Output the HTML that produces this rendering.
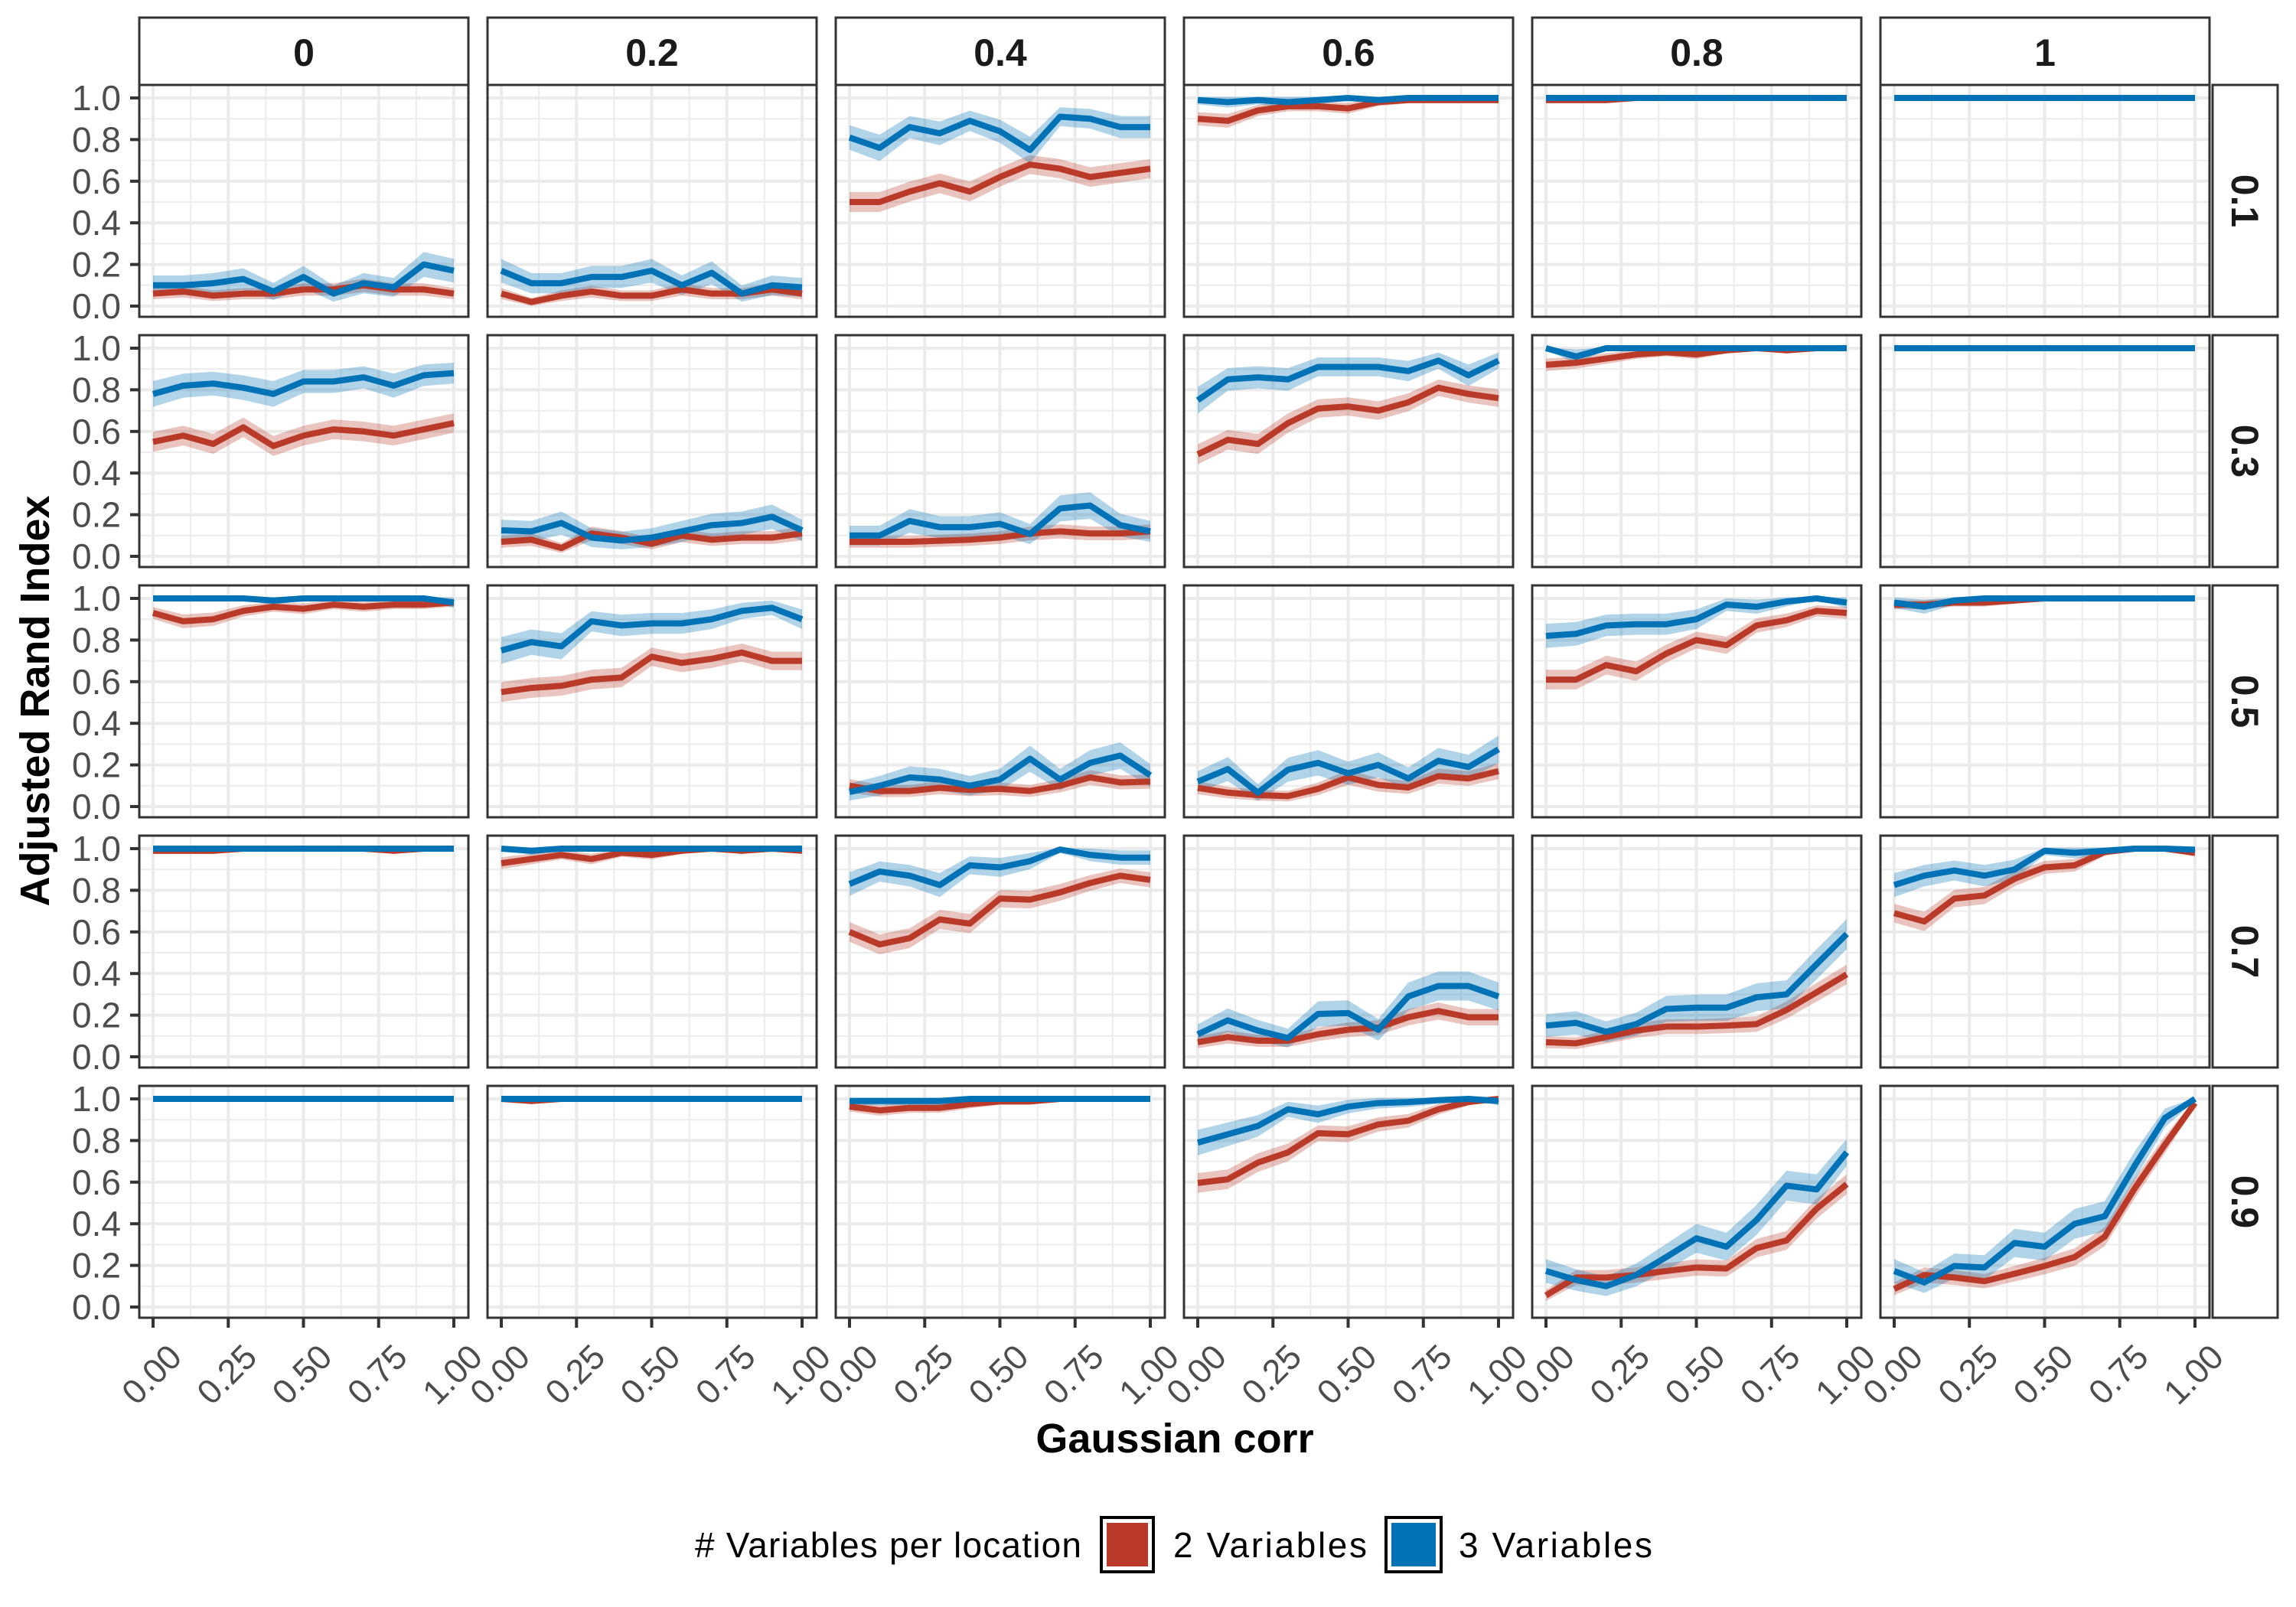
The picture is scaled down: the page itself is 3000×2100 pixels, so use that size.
<!DOCTYPE html>
<html><head><meta charset="utf-8">
<style>
html,body{margin:0;padding:0;background:#fff;}
svg{display:block;font-family:"Liberation Sans","DejaVu Sans",sans-serif;}
</style></head>
<body>
<svg id="chart" width="3000" height="2100" viewBox="0 0 3000 2100" xmlns="http://www.w3.org/2000/svg">
<rect x="0" y="0" width="3000" height="2100" fill="#fff"/>
<g id="panels"></g>
<text x="1535" y="1898" text-anchor="middle" font-size="54" font-weight="bold" fill="#000">Gaussian corr</text>
<text transform="translate(64,916) rotate(-90)" text-anchor="middle" font-size="54" font-weight="bold" fill="#000">Adjusted Rand Index</text>
<g>
<text x="908" y="2035" font-size="46" fill="#000" textLength="505"># Variables per location</text>
<rect x="1439" y="1983" width="68" height="71" fill="#fff" stroke="#000" stroke-width="4"/>
<rect x="1446" y="1990" width="54" height="57" fill="#BA3A29"/>
<text x="1533" y="2035" font-size="46" fill="#000" textLength="253">2 Variables</text>
<rect x="1811" y="1983" width="72" height="71" fill="#fff" stroke="#000" stroke-width="4"/>
<rect x="1818" y="1990" width="58" height="57" fill="#0072B5"/>
<text x="1906" y="2035" font-size="46" fill="#000" textLength="253">3 Variables</text>
</g>
</svg>
<script>
const colLabels = ["0","0.2","0.4","0.6","0.8","1"];
const rowLabels = ["0.1","0.3","0.5","0.7","0.9"];
const xValues = [0,0.1,0.2,0.3,0.4,0.5,0.6,0.7,0.8,0.9,1];
const xTicks = [0,0.25,0.5,0.75,1];
const xTickLabels = ["0.00","0.25","0.50","0.75","1.00"];
const yTicks = [0,0.2,0.4,0.6,0.8,1];
const yTickLabels = ["0.0","0.2","0.4","0.6","0.8","1.0"];

const red_r01 = [
 [0.06,0.07,0.05,0.06,0.06,0.08,0.08,0.10,0.08,0.08,0.06],
 [0.06,0.02,0.05,0.07,0.05,0.05,0.08,0.06,0.06,0.08,0.06],
 [0.50,0.50,0.55,0.59,0.55,0.62,0.68,0.66,0.62,0.64,0.66],
 [0.90,0.89,0.94,0.96,0.96,0.95,0.98,0.99,0.99,0.99,0.99],
 [0.99,0.99,0.99,1,1,1,1,1,1,1,1],
 [1,1,1,1,1,1,1,1,1,1,1]];
const blue_r01 = [
 [0.10,0.10,0.11,0.13,0.07,0.14,0.06,0.11,0.09,0.20,0.17],
 [0.17,0.11,0.11,0.14,0.14,0.17,0.10,0.16,0.06,0.10,0.09],
 [0.81,0.76,0.86,0.83,0.89,0.84,0.75,0.91,0.90,0.86,0.86],
 [0.99,0.98,0.99,0.98,0.99,1,0.99,1,1,1,1],
 [1,1,1,1,1,1,1,1,1,1,1],
 [1,1,1,1,1,1,1,1,1,1,1]];
const red_r03 = [
 [0.55,0.58,0.54,0.62,0.53,0.58,0.61,0.60,0.58,0.61,0.64],
 [0.07,0.08,0.04,0.11,0.09,0.06,0.10,0.08,0.09,0.09,0.11],
 [0.07,0.07,0.07,0.075,0.08,0.09,0.11,0.12,0.11,0.11,0.12],
 [0.49,0.56,0.54,0.64,0.71,0.72,0.70,0.74,0.81,0.78,0.76],
 [0.92,0.93,0.95,0.97,0.98,0.97,0.99,1,0.99,1,1],
 [1,1,1,1,1,1,1,1,1,1,1]];
const blue_r03 = [
 [0.78,0.82,0.83,0.81,0.78,0.84,0.84,0.86,0.82,0.87,0.88],
 [0.125,0.12,0.16,0.09,0.076,0.09,0.12,0.15,0.16,0.19,0.125],
 [0.10,0.10,0.17,0.14,0.14,0.156,0.107,0.23,0.244,0.15,0.12],
 [0.75,0.85,0.86,0.85,0.91,0.91,0.91,0.89,0.94,0.87,0.94],
 [1,0.96,1,1,1,1,1,1,1,1,1],
 [1,1,1,1,1,1,1,1,1,1,1]];
const red_r05 = [
 [0.93,0.89,0.90,0.94,0.96,0.95,0.97,0.96,0.97,0.97,0.98],
 [0.55,0.57,0.58,0.61,0.62,0.72,0.69,0.71,0.74,0.70,0.70],
 [0.10,0.075,0.075,0.09,0.08,0.085,0.075,0.10,0.14,0.116,0.12],
 [0.09,0.067,0.055,0.05,0.085,0.14,0.104,0.092,0.146,0.135,0.17],
 [0.61,0.61,0.68,0.65,0.735,0.80,0.775,0.87,0.895,0.94,0.93],
 [0.97,0.97,0.98,0.98,0.99,1,1,1,1,1,1]];
const blue_r05 = [
 [1,1,1,1,0.99,1,1,1,1,1,0.98],
 [0.75,0.79,0.77,0.89,0.87,0.88,0.88,0.90,0.94,0.955,0.90],
 [0.07,0.10,0.14,0.13,0.10,0.13,0.23,0.13,0.21,0.245,0.15],
 [0.12,0.18,0.067,0.177,0.21,0.16,0.20,0.135,0.22,0.19,0.275],
 [0.82,0.83,0.87,0.876,0.876,0.90,0.97,0.96,0.985,1,0.98],
 [0.98,0.96,0.99,1,1,1,1,1,1,1,1]];
const red_r07 = [
 [0.99,0.99,0.99,1,1,1,1,1,0.99,1,1],
 [0.93,0.95,0.97,0.95,0.98,0.97,0.99,1,0.99,1,0.99],
 [0.60,0.54,0.57,0.66,0.64,0.76,0.755,0.79,0.835,0.87,0.85],
 [0.07,0.095,0.077,0.077,0.108,0.13,0.14,0.19,0.22,0.19,0.19],
 [0.07,0.065,0.095,0.126,0.145,0.145,0.15,0.157,0.225,0.31,0.396],
 [0.69,0.65,0.76,0.775,0.855,0.91,0.92,0.984,1,1,0.98]];
const blue_r07 = [
 [1,1,1,1,1,1,1,1,1,1,1],
 [1,0.99,1,1,1,1,1,1,1,1,1],
 [0.83,0.89,0.87,0.825,0.92,0.91,0.94,0.996,0.97,0.957,0.957],
 [0.108,0.175,0.126,0.09,0.206,0.21,0.13,0.29,0.34,0.34,0.29],
 [0.15,0.163,0.12,0.157,0.23,0.236,0.236,0.286,0.30,0.445,0.59],
 [0.825,0.87,0.895,0.87,0.90,0.99,0.98,0.99,1,1,0.995]];
const red_r09 = [
 [1,1,1,1,1,1,1,1,1,1,1],
 [1,0.99,1,1,1,1,1,1,1,1,1],
 [0.963,0.945,0.957,0.957,0.975,0.988,0.988,1,1,1,1],
 [0.596,0.614,0.694,0.743,0.835,0.83,0.877,0.895,0.95,0.985,1],
 [0.056,0.142,0.142,0.154,0.173,0.19,0.185,0.283,0.32,0.473,0.59],
 [0.087,0.154,0.142,0.124,0.16,0.197,0.24,0.338,0.571,0.78,0.98]];
const blue_r09 = [
 [1,1,1,1,1,1,1,1,1,1,1],
 [1,1,1,1,1,1,1,1,1,1,1],
 [0.99,0.99,0.99,0.99,1,1,1,1,1,1,1],
 [0.79,0.83,0.87,0.95,0.926,0.963,0.98,0.985,0.994,1,0.99],
 [0.173,0.13,0.10,0.154,0.24,0.33,0.29,0.418,0.583,0.565,0.743],
 [0.173,0.118,0.197,0.19,0.308,0.29,0.40,0.436,0.68,0.908,1]];

const redRows = [red_r01, red_r03, red_r05, red_r07, red_r09];
const blueRows = [blue_r01, blue_r03, blue_r05, blue_r07, blue_r09];

const NS = "http://www.w3.org/2000/svg";
const root = document.getElementById("panels");
const PL = 182, PT = 111, PW = 430, PH = 303, CP = 455, RP = 327;
function mk(tag, attrs, parent){ const e=document.createElementNS(NS,tag); for(const k in attrs) e.setAttribute(k,attrs[k]); (parent||root).appendChild(e); return e; }
function xs(c,v){ return PL + c*CP + 18 + v*(PW-37); }
function ys(r,v){ return PT + r*RP + 17 + (1-v)*272; }

colLabels.forEach((lab,c)=>{
  const g = mk("g",{});
  
  
  mk("rect",{x:PL+c*CP,y:23,width:PW,height:88,fill:"#fff",stroke:"#333",'stroke-width':3},g);
  const t = mk("text",{x:PL+c*CP+PW/2,y:86,'text-anchor':'middle','font-size':50,'font-weight':'bold',fill:'#1a1a1a'},g);
  t.textContent = lab;
});
rowLabels.forEach((lab,r)=>{
  const g = mk("g",{});
  
  
  mk("rect",{x:2891,y:PT+r*RP,width:85,height:PH,fill:"#fff",stroke:"#333",'stroke-width':3},g);
  const cx = 2933, cy = PT+r*RP+PH/2;
  const t = mk("text",{x:cx,y:cy,transform:`rotate(90 ${cx} ${cy})`,'text-anchor':'middle','dominant-baseline':'central','font-size':50,'font-weight':'bold',fill:'#1a1a1a'},g);
  t.textContent = lab;
});

function band(r,c,vals,hwBase,hwScale){
  const up=[], lo=[];
  vals.forEach((v,i)=>{
    const hw = hwBase + hwScale*Math.sqrt(Math.max(0,v*(1-v)));
    up.push(xs(c,xValues[i])+","+ys(r,Math.min(1.005,v+hw)));
    lo.unshift(xs(c,xValues[i])+","+ys(r,Math.max(-0.05,v-hw)));
  });
  return up.concat(lo).join(" ");
}
function line(r,c,vals){ return vals.map((v,i)=>xs(c,xValues[i])+","+ys(r,v)).join(" "); }

for(let r=0;r<5;r++){
  for(let c=0;c<6;c++){
    const g = mk("g",{});
    
    
    const x0=PL+c*CP, y0=PT+r*RP;
    mk("rect",{x:x0,y:y0,width:PW,height:PH,fill:"#fff"},g);
    [0.1,0.3,0.5,0.7,0.9].forEach(v=>mk("line",{x1:x0,x2:x0+PW,y1:ys(r,v),y2:ys(r,v),stroke:"#ececec",'stroke-width':2},g));
    [0.125,0.375,0.625,0.875].forEach(v=>mk("line",{y1:y0,y2:y0+PH,x1:xs(c,v),x2:xs(c,v),stroke:"#ececec",'stroke-width':2},g));
    yTicks.forEach(v=>mk("line",{x1:x0,x2:x0+PW,y1:ys(r,v),y2:ys(r,v),stroke:"#ebebeb",'stroke-width':4},g));
    xTicks.forEach(v=>mk("line",{y1:y0,y2:y0+PH,x1:xs(c,v),x2:xs(c,v),stroke:"#ebebeb",'stroke-width':4},g));
    const red = redRows[r][c], blue = blueRows[r][c];
    const rb = mk("polygon",{points:band(r,c,red,0.008,0.08),fill:"#BA3A29",'fill-opacity':0.3},g);
    
    
    const bb = mk("polygon",{points:band(r,c,blue,0.008,0.13),fill:"#0072B5",'fill-opacity':0.3},g);
    
    
    const rl = mk("polyline",{points:line(r,c,red),fill:"none",stroke:"#BA3A29",'stroke-width':8,'stroke-linejoin':'round'},g);
    
    
    const bl = mk("polyline",{points:line(r,c,blue),fill:"none",stroke:"#0072B5",'stroke-width':8,'stroke-linejoin':'round'},g);
    
    
    mk("rect",{x:x0,y:y0,width:PW,height:PH,fill:"none",stroke:"#333",'stroke-width':3},g);
    if(c===0){
      yTicks.forEach((v,i)=>{
        mk("line",{x1:170,x2:x0,y1:ys(r,v),y2:ys(r,v),stroke:"#333",'stroke-width':4},g);
        const t = mk("text",{x:158,y:ys(r,v)+16,'text-anchor':'end','font-size':46,fill:'#4d4d4d'},g);
        
        
        t.textContent = yTickLabels[i];
      });
    }
    if(r===4){
      xTicks.forEach((v,i)=>{
        const tx = xs(c,v), by = y0+PH;
        mk("line",{x1:tx,x2:tx,y1:by,y2:by+13,stroke:"#333",'stroke-width':4},g);
        const ax = tx+40, ay = 1776;
        const t = mk("text",{x:ax,y:ay,transform:`rotate(-45 ${ax} ${ay})`,'text-anchor':'end','font-size':45,fill:'#4d4d4d'},g);
        
        
        t.textContent = xTickLabels[i];
      });
    }
  }
}
</script>
</body></html>
